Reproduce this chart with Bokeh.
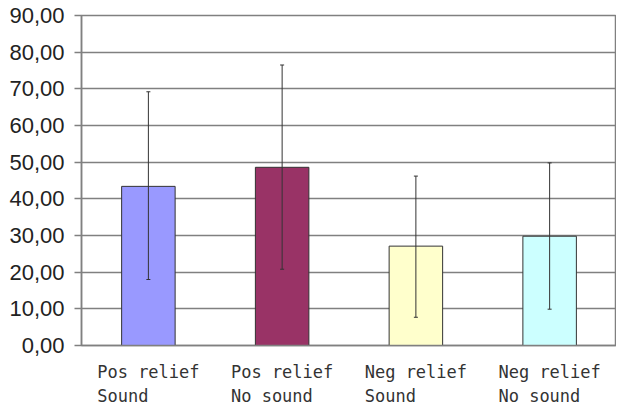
import numpy as np
from bokeh.plotting import figure
from bokeh.models import ColumnDataSource, Range1d, FixedTicker, Whisker, TeeHead
from bokeh.embed import file_html
from bokeh.resources import INLINE

categories = [("Pos relief", "Sound"), ("Pos relief", "No sound"),
              ("Neg relief", "Sound"), ("Neg relief", "No sound")]
means = [43.4, 48.6, 27.1, 29.8]
upper = [69.2, 76.5, 46.2, 49.8]
lower = [18.0, 20.8, 7.7, 9.9]
colors = ["#9999FF", "#993366", "#FFFFCC", "#CCFFFF"]
y_ticks = [0, 10, 20, 30, 40, 50, 60, 70, 80, 90]
y_tick_labels = ["0,00", "10,00", "20,00", "30,00", "40,00", "50,00", "60,00", "70,00", "80,00", "90,00"]

xs = np.arange(len(categories)) + 0.5
src = ColumnDataSource(dict(x=xs, top=means, upper=upper, lower=lower, color=colors))

def pad(s, n=10):
    return s + "\u00a0" * (n - len(s))

x_labels = {float(x): pad(a) + "\n" + pad(b) for x, (a, b) in zip(xs, categories)}

p = figure(frame_width=535, frame_height=330, output_backend="svg", toolbar_location=None,
           x_range=Range1d(0, len(categories)), y_range=Range1d(0, 90),
           min_border_left=81, min_border_right=0, min_border_top=15, min_border_bottom=56)
p.background_fill_color = "white"
p.border_fill_color = "white"
p.outline_line_color = "#808080"
p.outline_line_width = 1.5

p.xgrid.visible = False
p.ygrid.grid_line_color = "#808080"
p.ygrid.grid_line_width = 1.5
p.ygrid.ticker = FixedTicker(ticks=y_ticks)

p.yaxis.ticker = FixedTicker(ticks=y_ticks)
p.yaxis.major_label_overrides = {t: l for t, l in zip(y_ticks, y_tick_labels)}
p.yaxis.major_label_text_font = "Liberation Sans"
p.yaxis.major_label_text_font_size = "22px"
p.yaxis.major_label_text_color = "#222222"
p.yaxis.major_label_standoff = 10
p.yaxis.major_tick_out = 7
p.yaxis.major_tick_in = 0
p.yaxis.minor_tick_line_color = None
p.yaxis.axis_line_color = "#808080"
p.yaxis.axis_line_width = 1.5
p.yaxis.major_tick_line_color = "#808080"
p.yaxis.major_tick_line_width = 1.5

p.xaxis.ticker = FixedTicker(ticks=list(xs))
p.xaxis.major_label_overrides = x_labels
p.xaxis.major_label_text_font = "DejaVu Sans Mono"
p.xaxis.major_label_text_font_size = "17px"
p.xaxis.major_label_text_color = "#333333"
p.xaxis.major_label_standoff = 10
p.xaxis.axis_line_color = "#808080"
p.xaxis.axis_line_width = 1.5
p.xaxis.major_tick_line_color = None
p.xaxis.minor_tick_line_color = None

p.vbar(x="x", top="top", bottom=0, width=0.4, fill_color="color", line_color="#333333",
       line_width=1, source=src)

w = Whisker(base="x", upper="upper", lower="lower", source=src, line_color="#333333", line_width=1,
            level="overlay",
            upper_head=TeeHead(size=4, line_color="#333333", line_width=1),
            lower_head=TeeHead(size=4, line_color="#333333", line_width=1))
p.add_layout(w)

open("out.html", "w").write(file_html(p, INLINE))
